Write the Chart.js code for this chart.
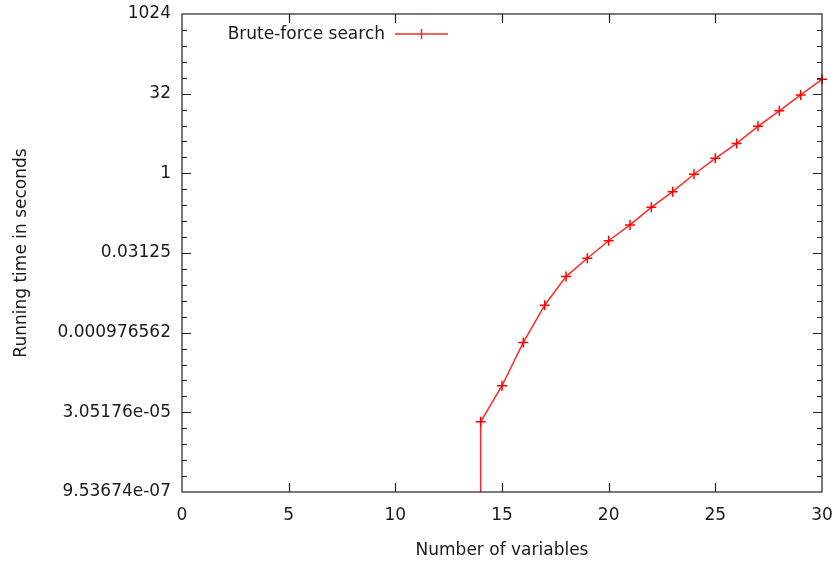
<!DOCTYPE html>
<html>
<head>
<meta charset="utf-8">
<script src="https://cdn.jsdelivr.net/npm/chart.js@4.4.1/dist/chart.umd.min.js"></script>
<style>
  html, body { margin: 0; padding: 0; background: #fff; }
  #wrap { width: 834px; height: 562px; }
</style>
</head>
<body>
<div id="wrap"><canvas id="runtimeChart"></canvas></div>
<script>
// number of variables and measured running time (seconds)
const numVars = [14, 14, 15, 16, 17, 18, 19, 20, 21, 22, 23, 24, 25, 26, 27, 28, 29, 30];
const runTimes = [1e-7, 2.02e-5, 9.7e-5, 6.4e-4, 3.22e-3, 0.0112, 0.0249, 0.0533, 0.106, 0.228, 0.45, 0.96, 1.92, 3.68, 7.73, 15.2, 30.3, 59.7];
const seriesLabel = 'Brute-force search';

// y ticks: every power of two, labelled every fifth
const yTickExps = [-20, -15, -10, -5, 0, 5, 10];
const yTickLabels = ['9.53674e-07', '3.05176e-05', '0.000976562', '0.03125', '1', '32', '1024'];
const xTickValues = [0, 5, 10, 15, 20, 25, 30];

const lineColor = '#ff2a2a';
const textColor = '#1a1a1a';
const fontFamily = '"DejaVu Sans", sans-serif';
const fontSize = 17;

// gnuplot style frame with inward ticks on all four sides
const framePlugin = {
    id: 'gnuplotFrame',
    afterDraw(chart) {
        const ctx = chart.ctx;
        const a = chart.chartArea;
        const xs = chart.scales.x;
        const ys = chart.scales.y;
        ctx.save();
        ctx.strokeStyle = '#222';
        ctx.lineWidth = 1.2;
        ctx.strokeRect(a.left, a.top, a.right - a.left, a.bottom - a.top);
        ctx.beginPath();
        xTickValues.forEach(v => {
            const px = Math.round(xs.getPixelForValue(v)) + 0.5;
            if (v === xs.min || v === xs.max) return;
            ctx.moveTo(px, a.bottom); ctx.lineTo(px, a.bottom - 9);
            ctx.moveTo(px, a.top); ctx.lineTo(px, a.top + 9);
        });
        for (let e = -20; e <= 10; e++) {
            if (e === -20 || e === 10) continue;
            const py = Math.round(ys.getPixelForValue(Math.pow(2, e))) + 0.5;
            const len = (e % 5 === 0) ? 9 : 5;
            ctx.moveTo(a.left, py); ctx.lineTo(a.left + len, py);
            ctx.moveTo(a.right, py); ctx.lineTo(a.right - len, py);
        }
        ctx.stroke();

        // key in the top-left corner: text first, then line sample
        const ly = a.top + 20;
        const sx0 = a.left + 213, sx1 = a.left + 266;
        ctx.font = fontSize + 'px ' + fontFamily;
        ctx.fillStyle = textColor;
        ctx.textAlign = 'right';
        ctx.textBaseline = 'middle';
        ctx.fillText(seriesLabel, sx0 - 10, ly + 1);
        ctx.strokeStyle = lineColor;
        ctx.lineWidth = 1.5;
        ctx.beginPath();
        ctx.moveTo(sx0, ly); ctx.lineTo(sx1, ly);
        const cx = (sx0 + sx1) / 2;
        ctx.moveTo(cx, ly - 5); ctx.lineTo(cx, ly + 5);
        ctx.stroke();
        ctx.restore();
    }
};

const points = numVars.map((x, i) => ({ x: x, y: runTimes[i] }));

const config = {
    type: 'line',
    data: {
        datasets: [{
            label: seriesLabel,
            data: points,
            borderColor: lineColor,
            backgroundColor: lineColor,
            borderWidth: 1.5,
            pointStyle: 'cross',
            pointRadius: points.map((p, i) => i === 0 ? 0 : 5),
            pointBorderWidth: 1.5,
            pointBorderColor: '#ff0000',
            tension: 0,
            clip: { left: 5, top: 5, right: 10, bottom: 0 }
        }]
    },
    options: {
        responsive: true,
        maintainAspectRatio: false,
        animation: false,
        layout: { padding: { top: 14, right: 12, left: 0, bottom: 0 } },
        plugins: {
            legend: { display: false },
            tooltip: { enabled: false }
        },
        scales: {
            x: {
                type: 'linear',
                min: 0,
                max: 30,
                grid: { display: false, drawTicks: false },
                border: { display: false },
                afterFit: s => {
                    s.height = 70;
                    s.paddingLeft = 0;
                    s.paddingRight = 0;
                },
                afterBuildTicks: s => { s.ticks = xTickValues.map(v => ({ value: v })); },
                ticks: {
                    color: textColor,
                    padding: 13,
                    font: { family: fontFamily, size: fontSize },
                    maxRotation: 0
                },
                title: {
                    display: true,
                    text: 'Number of variables',
                    color: textColor,
                    padding: { top: 0, bottom: 1 },
                    font: { family: fontFamily, size: fontSize }
                }
            },
            y: {
                type: 'logarithmic',
                min: Math.pow(2, -20),
                max: 1024,
                grid: { display: false, drawTicks: false },
                border: { display: false },
                afterFit: s => {
                    s.width = 182;
                    s.paddingTop = 0;
                    s.paddingBottom = 0;
                },
                afterBuildTicks: s => {
                    const t = [];
                    for (let e = -20; e <= 10; e++) t.push({ value: Math.pow(2, e) });
                    s.ticks = t;
                },
                ticks: {
                    color: textColor,
                    padding: 11,
                    autoSkip: false,
                    font: { family: fontFamily, size: fontSize },
                    callback: function(value) {
                        const e = Math.round(Math.log2(value));
                        const k = yTickExps.indexOf(e);
                        return k >= 0 ? yTickLabels[k] : '';
                    }
                },
                title: {
                    display: true,
                    text: 'Running time in seconds',
                    color: textColor,
                    padding: { top: 11, bottom: 0 },
                    font: { family: fontFamily, size: fontSize }
                }
            }
        }
    },
    plugins: [framePlugin]
};

const ctx = document.getElementById('runtimeChart').getContext('2d');
const runtimeChart = new Chart(ctx, config);
</script>
</body>
</html>
